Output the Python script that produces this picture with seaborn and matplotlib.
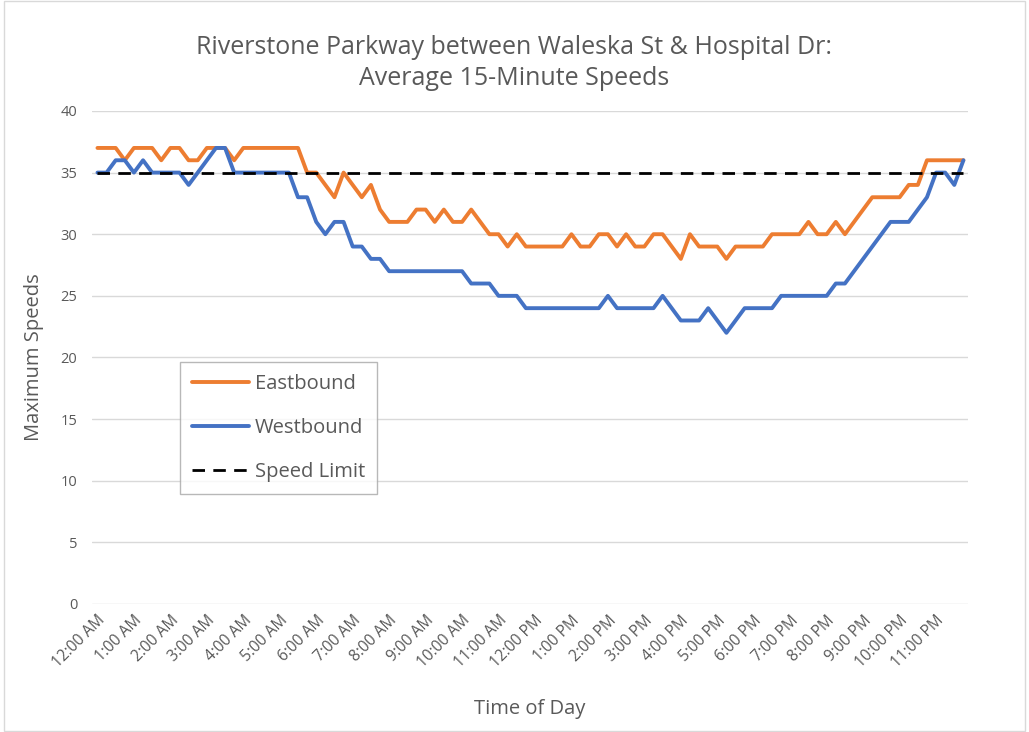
import pandas as pd
import matplotlib.pyplot as plt
import seaborn as sns
from matplotlib.patches import Rectangle

# 15-minute slots over one day, 12:00 AM to 11:45 PM
eastbound = [37, 37, 37, 36, 37, 37, 37, 36, 37, 37, 36, 36, 37, 37, 37, 36,
             37, 37, 37, 37, 37, 37, 37, 35, 35, 34, 33, 35, 34, 33, 34, 32,
             31, 31, 31, 32, 32, 31, 32, 31, 31, 32, 31, 30, 30, 29, 30, 29,
             29, 29, 29, 29, 30, 29, 29, 30, 30, 29, 30, 29, 29, 30, 30, 29,
             28, 30, 29, 29, 29, 28, 29, 29, 29, 29, 30, 30, 30, 30, 31, 30,
             30, 31, 30, 31, 32, 33, 33, 33, 33, 34, 34, 36, 36, 36, 36, 36]
westbound = [35, 35, 36, 36, 35, 36, 35, 35, 35, 35, 34, 35, 36, 37, 37, 35,
             35, 35, 35, 35, 35, 35, 33, 33, 31, 30, 31, 31, 29, 29, 28, 28,
             27, 27, 27, 27, 27, 27, 27, 27, 27, 26, 26, 26, 25, 25, 25, 24,
             24, 24, 24, 24, 24, 24, 24, 24, 25, 24, 24, 24, 24, 24, 25, 24,
             23, 23, 23, 24, 23, 22, 23, 24, 24, 24, 24, 25, 25, 25, 25, 25,
             25, 26, 26, 27, 28, 29, 30, 31, 31, 31, 32, 33, 35, 35, 34, 36]
speed_limit = 35

hour_labels = ["12:00 AM", "1:00 AM", "2:00 AM", "3:00 AM", "4:00 AM", "5:00 AM",
               "6:00 AM", "7:00 AM", "8:00 AM", "9:00 AM", "10:00 AM", "11:00 AM",
               "12:00 PM", "1:00 PM", "2:00 PM", "3:00 PM", "4:00 PM", "5:00 PM",
               "6:00 PM", "7:00 PM", "8:00 PM", "9:00 PM", "10:00 PM", "11:00 PM"]

slots = list(range(len(eastbound)))
df = pd.DataFrame({"slot": slots, "Eastbound": eastbound, "Westbound": westbound,
                   "Speed Limit": [speed_limit] * len(slots)})

sns.set_style("white")
plt.rcParams["font.family"] = ["Open Sans", "DejaVu Sans"]
grey = "#595959"

fig = plt.figure(figsize=(10.29, 7.32), dpi=100)
ax = fig.add_axes([0.0894, 0.1749, 0.8513, 0.6735])

sns.lineplot(data=df, x="slot", y="Eastbound", color="#ED7D31", lw=2.8, ax=ax, label="Eastbound")
sns.lineplot(data=df, x="slot", y="Westbound", color="#4472C4", lw=2.8, ax=ax, label="Westbound")
sns.lineplot(data=df, x="slot", y="Speed Limit", color="black", lw=2.0, ax=ax,
             label="Speed Limit", linestyle=(0, (4.5, 3)))

ax.set_xlim(-0.6, 95.5)
ax.set_ylim(0, 40)
ax.set_yticks(range(0, 41, 5))
ax.set_xticks(range(0, 96, 4))
ax.set_xticklabels(hour_labels, rotation=45, ha="right", rotation_mode="anchor")
ax.tick_params(axis="both", length=0, colors=grey, labelsize=10.5)
ax.tick_params(axis="x", labelsize=11.2, pad=6)
ax.tick_params(axis="y", pad=10.5)
ax.yaxis.grid(True, color="#d9d9d9", lw=1)
for s in ax.spines.values():
    s.set_visible(False)

ax.set_xlabel("Time of Day", fontsize=14.5, color=grey, labelpad=20)
ax.set_ylabel("Maximum Speeds", fontsize=14.5, color=grey, labelpad=12)
fig.suptitle("Riverstone Parkway between Waleska St & Hospital Dr:\nAverage 15-Minute Speeds",
             fontsize=18, color=grey, y=0.952, linespacing=1.3)

leg = ax.legend(loc="upper left", bbox_to_anchor=(0.1005, 0.491), fontsize=14.5,
                frameon=True, fancybox=False, edgecolor="#a6a6a6", handlelength=2.8,
                labelspacing=1.2, borderpad=0.6, handletextpad=0.3, borderaxespad=0)
for t in leg.get_texts():
    t.set_color(grey)
leg.get_frame().set_linewidth(1)

fig.patches.append(Rectangle((0.004, 0.002), 0.992, 0.996, transform=fig.transFigure,
                             fill=False, edgecolor="#d9d9d9", lw=1))

fig.savefig("out.png", dpi=100)
